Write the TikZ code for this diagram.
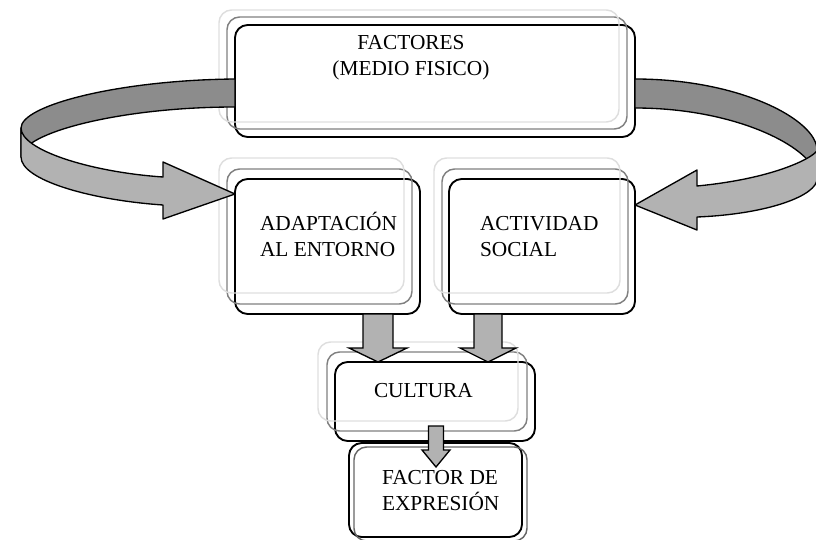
\documentclass[tikz,border=0pt]{standalone}
\usepackage{fontspec}
\setmainfont{Liberation Serif}
\usetikzlibrary{positioning, calc}

\begin{document}
\begin{tikzpicture}[
        x=0.75pt, y=-0.75pt,
        every node/.style={inner sep=0pt, outer sep=0pt},
        front/.style={draw=black, line width=1.4pt, rounded corners=9.5pt},
        mid/.style={draw=black!50, line width=1.1pt, rounded corners=9.5pt},
        light/.style={draw=black!13, line width=1.1pt, rounded corners=9.5pt},
        lbl/.style={font=\fontsize{16}{18.8}\selectfont, align=left, anchor=base west},
        ribbonback/.style={draw=black, fill=black!45, line width=1pt, line join=round},
        ribbonfront/.style={draw=black, fill=black!30, line width=1pt, line join=round},
        blockarrow/.style={draw=black, fill=black!30, line width=1pt, line join=miter}
    ]
    \useasboundingbox (0,0) rectangle (816,539);
    \clip (0,0) rectangle (816,539);

    % Factores
    \node[front, minimum width=300pt, minimum height=84pt] (factores) at (435,81) {};
    \node[mid, minimum width=300pt, minimum height=84pt] (factoresmid) at ($(factores)+(-8,-8)$) {};
    \node[light, minimum width=300pt, minimum height=84pt] (factoreslight) at ($(factores)+(-16,-15)$) {};
    \node[lbl, align=center, anchor=base] (factorestxt) at ($(factores.north)+(-24,50)$) {FACTORES\\(MEDIO FISICO)};

    % Adaptacion al entorno
    \node[front, minimum width=138.75pt, minimum height=101.25pt] (adapt) at (327.5,246.5) {};
    \node[mid, minimum width=138.75pt, minimum height=101.25pt] (adaptmid) at ($(adapt)+(-8,-10)$) {};
    \node[light, minimum width=138.75pt, minimum height=101.25pt] (adaptlight) at ($(adapt)+(-16,-21)$) {};
    \node[lbl] (adapttxt) at ($(adapt.north west)+(25,77)$) {ADAPTACIÓN\\AL ENTORNO};

    % Actividad social
    \node[front, minimum width=139.5pt, minimum height=101.25pt] (social) at (542,246.5) {};
    \node[mid, minimum width=139.5pt, minimum height=101.25pt] (socialmid) at ($(social)+(-7,-10)$) {};
    \node[light, minimum width=139.5pt, minimum height=101.25pt] (sociallight) at ($(social)+(-15,-21)$) {};
    \node[lbl] (socialtxt) at ($(social.north west)+(31,77)$) {ACTIVIDAD\\SOCIAL};

    % Cultura
    \node[front, minimum width=150pt, minimum height=59.25pt] (cultura) at (435,401.5) {};
    \node[mid, minimum width=150pt, minimum height=59.25pt] (culturamid) at ($(cultura)+(-8,-10)$) {};
    \node[light, minimum width=150pt, minimum height=59.25pt] (culturalight) at ($(cultura)+(-17,-20)$) {};
    \node[lbl] (culturatxt) at ($(cultura.north west)+(39,35)$) {CULTURA};

    % Factor de expresion
    \node[front, minimum width=129.75pt, minimum height=70.5pt] (expresion) at (435.5,490) {};
    \node[draw=black!60, line width=1.1pt, rounded corners=9.5pt, minimum width=129.75pt, minimum height=70.5pt] (expresionmid) at ($(expresion)+(5,4)$) {};
    \node[lbl] (expresiontxt) at ($(expresion.north west)+(33,67)$) {FACTOR DE\\EXPRESIÓN};

    % Left ribbon arrow
    \draw[ribbonback] ($(factores.west)+(0,-2)$) .. controls (120,80) and (21,105) .. (21,128)
        -- (21,157) .. controls (21,133) and (120,107) .. ($(factores.west)+(0,26)$) -- cycle;
    \draw[ribbonfront] (21,128) .. controls (21,150) and (90,172) .. (163,177) -- (163,162)
        -- ($(adapt.north west)+(0,15)$) -- (163,219) -- (163,205)
        .. controls (90,200) and (21,180) .. (21,157) -- cycle;

    % Right ribbon arrow
    \draw[ribbonback] ($(factores.east)+(0,-2)$) .. controls (740,79) and (817,120) .. (817,150)
        -- (817,179) .. controls (817,150) and (740,108) .. ($(factores.east)+(0,27)$) -- cycle;
    \draw[ribbonfront] (817,150) .. controls (817,155) and (780,178) .. (697,186) -- (697,170)
        -- ($(social.north east)+(0,26)$) -- (697,230) -- (697,217)
        .. controls (770,214) and (817,195) .. (817,179) -- cycle;

    % Down arrows
    \path ($(cultura.north)+(-57,0)$) coordinate (tipA);
    \draw[blockarrow] (tipA) -- ++(29,-14) -- ++(-14,0) -- ($(tipA |- adapt.south)+(15,0)$)
        -- ++(-30,0) -- ($(tipA)+(-15,-14)$) -- ++(-14,0) -- cycle;
    \path ($(cultura.north)+(53,0)$) coordinate (tipB);
    \draw[blockarrow] (tipB) -- ++(28,-14) -- ++(-14,0) -- ($(tipB |- social.south)+(14,0)$)
        -- ++(-28,0) -- ($(tipB)+(-14,-14)$) -- ++(-14,0) -- cycle;
    \path ($(expresion.north)+(0.5,24)$) coordinate (tipC);
    \draw[blockarrow] (tipC) -- ++(14,-17) -- ++(-6.5,0) -- ++(0,-24)
        -- ++(-15,0) -- ++(0,24) -- ++(-6.5,0) -- cycle;

\end{tikzpicture}
\end{document}
